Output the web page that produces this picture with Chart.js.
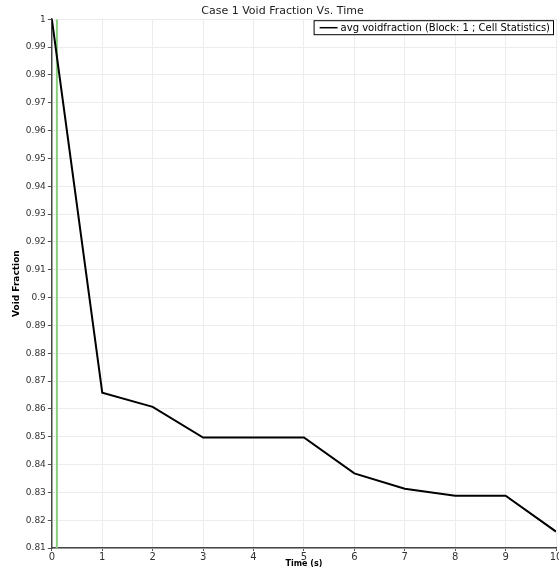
<!DOCTYPE html>
<html>
<head>
<meta charset="utf-8">
<script src="https://cdn.jsdelivr.net/npm/chart.js@4"></script>
<style>
html,body{margin:0;padding:0;background:#fff;}
#wrap{width:559px;height:569px;position:relative;}
</style>
</head>
<body>
<div id="wrap"><canvas id="c" width="559" height="569"></canvas></div>
<script>
const chartTitle = "Case 1 Void Fraction Vs. Time";
const seriesLabel = "avg voidfraction (Block: 1 ; Cell Statistics)";
const xTitle = "Time (s)";
const yTitle = "Void Fraction";
const times = [0, 1, 2, 3, 4, 5, 6, 7, 8, 9, 10];
const voidFraction = [1.0, 0.8658, 0.8607, 0.8497, 0.8497, 0.8497, 0.8368, 0.8313, 0.8288, 0.8288, 0.8159];
const markerTime = 0.1;
const yRange = [0.81, 1.0];
const xRange = [0, 10];

const FONT = "'DejaVu Sans', sans-serif";

const legendBox = {
  id: 'legendBox',
  afterDatasetsDraw(chart) {
    const {ctx, chartArea} = chart;
    ctx.save();
    ctx.font = "10px " + FONT;
    const tw = ctx.measureText(seriesLabel).width;
    const right = chartArea.right - 3;
    const top = chartArea.top + 1;
    const h = 14;
    const w = tw + 30;
    const left = right - w;
    ctx.fillStyle = '#fff';
    ctx.fillRect(left, top, w, h);
    ctx.strokeStyle = '#000';
    ctx.lineWidth = 1;
    ctx.strokeRect(left + 0.5, top + 0.5, w, h);
    ctx.beginPath();
    ctx.lineWidth = 1.5;
    ctx.moveTo(left + 6, top + 7.5);
    ctx.lineTo(left + 24, top + 7.5);
    ctx.stroke();
    ctx.fillStyle = '#000';
    ctx.textBaseline = 'middle';
    ctx.fillText(seriesLabel, left + 27, top + 8);
    ctx.restore();
  }
};

new Chart(document.getElementById('c'), {
  type: 'line',
  data: {
    datasets: [
      {
        label: seriesLabel,
        data: times.map((t, i) => ({x: t, y: voidFraction[i]})),
        borderColor: '#000',
        borderWidth: 2,
        pointRadius: 0,
        tension: 0,
        fill: false
      },
      {
        label: 'marker',
        data: [{x: markerTime, y: yRange[0]}, {x: markerTime, y: yRange[1]}],
        borderColor: '#86d07a',
        borderWidth: 2,
        pointRadius: 0,
        fill: false,
        order: 1
      }
    ]
  },
  options: {
    responsive: false,
    animation: false,
    layout: {padding: {left: 9, right: 3, top: 0, bottom: 0}},
    plugins: {
      legend: {display: false},
      tooltip: {enabled: false},
      title: {
        display: true,
        text: chartTitle,
        color: '#222',
        font: {family: FONT, size: 11, weight: 'normal'},
        padding: {top: 5, bottom: 1}
      }
    },
    scales: {
      x: {
        type: 'linear',
        min: xRange[0],
        max: xRange[1],
        ticks: {stepSize: 1, color: '#333', font: {family: FONT, size: 10}, padding: 0, maxRotation: 0},
        grid: {color: '#ececec', tickColor: '#555', tickLength: 3},
        border: {color: '#444', width: 1.5},
        title: {display: true, text: xTitle, color: '#000', font: {family: FONT, size: 8, weight: 'bold'}, padding: 0},
        afterFit(s) { s.paddingRight = 0; s.paddingLeft = 0; s.height = 21; }
      },
      y: {
        type: 'linear',
        min: yRange[0],
        max: yRange[1],
        ticks: {stepSize: 0.01, color: '#333', font: {family: FONT, size: 9}, padding: 2,
          callback: v => String(+v.toFixed(2))},
        grid: {color: '#ececec', tickColor: '#555', tickLength: 4},
        border: {color: '#444', width: 1.5},
        title: {display: true, text: yTitle, color: '#000', font: {family: FONT, size: 9, weight: 'bold'}, padding: 2}
      }
    }
  },
  plugins: [legendBox]
});
</script>
</body>
</html>
